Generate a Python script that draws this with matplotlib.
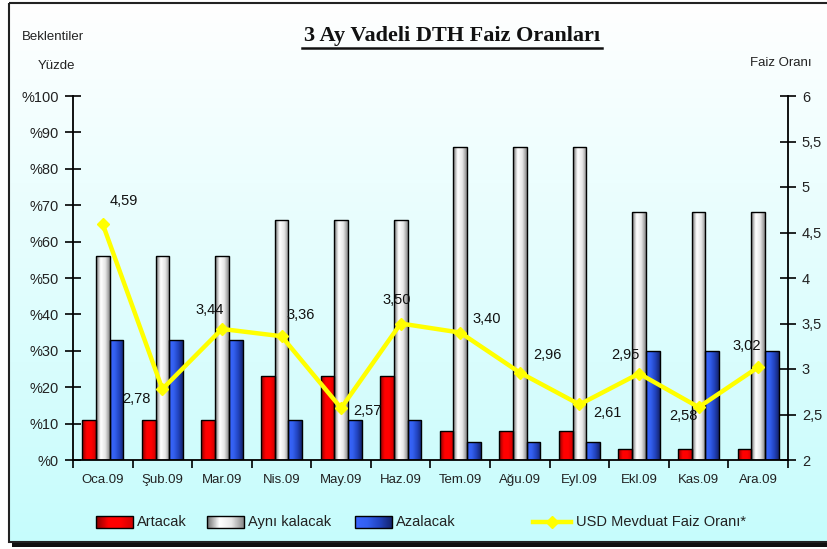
import numpy as np
import matplotlib
matplotlib.use("Agg")
import matplotlib.pyplot as plt
from matplotlib.patches import Rectangle
from matplotlib.lines import Line2D
from matplotlib.colors import LinearSegmentedColormap

# ---------------- data ----------------
months = ["Oca.09", "Şub.09", "Mar.09", "Nis.09", "May.09", "Haz.09",
          "Tem.09", "Ağu.09", "Eyl.09", "Ekl.09", "Kas.09", "Ara.09"]
artacak = [11, 11, 11, 23, 23, 23, 8, 8, 8, 3, 3, 3]
ayni = [56, 56, 56, 66, 66, 66, 86, 86, 86, 68, 68, 68]
azalacak = [33, 33, 33, 11, 11, 11, 5, 5, 5, 30, 30, 30]
usd_rate = [4.59, 2.78, 3.44, 3.36, 2.57, 3.50, 3.40, 2.96, 2.61, 2.95, 2.58, 3.02]
left_ticks = [0, 10, 20, 30, 40, 50, 60, 70, 80, 90, 100]
left_labels = ["%0", "%10", "%20", "%30", "%40", "%50", "%60", "%70", "%80", "%90", "%100"]
right_ticks = [2, 2.5, 3, 3.5, 4, 4.5, 5, 5.5, 6]
right_labels = ["2", "2,5", "3", "3,5", "4", "4,5", "5", "5,5", "6"]
series_names = ["Artacak", "Aynı kalacak", "Azalacak", "USD Mevduat Faiz Oranı*"]

# label offsets in points (style, not data)
label_offsets = [(15, 17), (-19, -7), (-9, 14), (14, 15), (19, -2), (-3, 17),
                 (19, 10), (20, 13), (20, -6), (-10, 13), (-11, -6), (-8, 15)]

W, H = 828, 549
fig = plt.figure(figsize=(W / 100, H / 100), dpi=100)
plt.rcParams['font.family'] = ['Liberation Sans', 'DejaVu Sans']

# ---------------- background ----------------
bg = fig.add_axes([0, 0, 1, 1], zorder=-10)
bg.set_xlim(0, W)
bg.set_ylim(H, 0)
bg.axis('off')
grad = np.linspace(0, 1, 256).reshape(-1, 1)
bg_cmap = LinearSegmentedColormap.from_list("bgc", ["#ffffff", "#c6fcfc"])
bg.imshow(grad, cmap=bg_cmap, extent=[9, W + 5, 542, 3], aspect='auto', zorder=0)
bg.add_patch(Rectangle((9, 3), W, 539, fill=False, edgecolor='#222222', lw=1.5, zorder=2))
bg.add_patch(Rectangle((12, 542.5), W, 4.5, facecolor='#111111', edgecolor='none', zorder=2))

# ---------------- main axes ----------------
ax = fig.add_axes([73 / W, 1 - 460 / H, (788 - 73) / W, (460 - 96) / H])
ax.patch.set_alpha(0)
x = np.arange(len(months))
bw = 0.23

cmap_red = LinearSegmentedColormap.from_list("r", ["#8a0000", "#ff0000", "#ff0000", "#d00000"])
cmap_gray = LinearSegmentedColormap.from_list("g", ["#6e6e6e", "#ffffff", "#e8e8e8", "#8a8a8a"])
cmap_blue = LinearSegmentedColormap.from_list("b", ["#3a66ff", "#3360f0", "#2244c0", "#14246e"])
hgrad = np.linspace(0, 1, 64).reshape(1, -1)

for vals, off, cm in [(artacak, -bw, cmap_red), (ayni, 0, cmap_gray), (azalacak, bw, cmap_blue)]:
    bars = ax.bar(x + off, vals, bw, facecolor='none', edgecolor='black', lw=1.0, zorder=3)
    for p in bars:
        bx, by = p.get_x(), p.get_y()
        im = ax.imshow(hgrad, cmap=cm, extent=[bx, bx + p.get_width(), by, by + p.get_height()],
                       aspect='auto', zorder=2, interpolation='bilinear')
        im.set_clip_path(p)

ax.set_xlim(-0.5, len(months) - 0.5)
ax.set_ylim(0, 100)
ax.set_yticks(left_ticks)
ax.set_yticklabels(left_labels)
ax.set_xticks(x)
ax.set_xticklabels(months)
ax.set_xticks(np.arange(-0.5, len(months), 1), minor=True)
ax.tick_params(axis='x', which='major', length=0, pad=10, labelsize=9.5, labelcolor='#222222')
ax.tick_params(axis='x', which='minor', length=6, width=1.2, direction='out')
ax.tick_params(axis='y', length=12, width=1.2, direction='inout', labelsize=10.5,
               pad=4, labelcolor='#222222')
for s in ['top', 'right']:
    ax.spines[s].set_visible(False)
for s in ['left', 'bottom']:
    ax.spines[s].set_linewidth(1.3)

# ---------------- secondary axis ----------------
ax2 = ax.twinx()
ax2.patch.set_alpha(0)
ax2.set_ylim(2, 6)
ax2.set_yticks(right_ticks)
ax2.set_yticklabels(right_labels)
ax2.tick_params(axis='y', length=12, width=1.2, direction='inout', labelsize=10.5,
                pad=4, labelcolor='#222222')
for s in ['top', 'left', 'bottom']:
    ax2.spines[s].set_visible(False)
ax2.spines['right'].set_linewidth(1.3)
ax2.plot(x, usd_rate, color='#ffff00', lw=3.2, marker='D', markersize=6,
         markerfacecolor='#ffff00', markeredgecolor='#ffff00', zorder=5)
for xi, v, (dx, dy) in zip(x, usd_rate, label_offsets):
    ax2.annotate(f"{v:.2f}".replace('.', ','), (xi, v), xytext=(dx, dy),
                 textcoords='offset points', ha='center', va='center',
                 fontsize=10.5, color='#111111', zorder=6)

# ---------------- texts ----------------
fig.text(452 / W, 1 - 36 / H, "3 Ay Vadeli DTH Faiz Oranları", ha='center', va='center',
         fontsize=16, fontweight='bold', family='Liberation Serif', color='#111111')
fig.add_artist(Line2D([302 / W, 602 / W], [1 - 48 / H, 1 - 48 / H], color='#111111', lw=1.8))
fig.text(22 / W, 1 - 37 / H, "Beklentiler", ha='left', va='center', fontsize=9.5, color='#222222')
fig.text(38 / W, 1 - 66 / H, "Yüzde", ha='left', va='center', fontsize=9.5, color='#222222')
fig.text(750 / W, 1 - 63 / H, "Faiz Oranı", ha='left', va='center', fontsize=9.5, color='#222222')

# ---------------- legend ----------------
leg_y = 522
patch_pos = [96, 207, 355]
legend_cmaps = [cmap_red, cmap_gray, cmap_blue]
for px, name, cm in zip(patch_pos, series_names[:3], legend_cmaps):
    r = Rectangle((px, leg_y - 6), 37, 12, facecolor='none', edgecolor='black', lw=1.0, zorder=3)
    bg.add_patch(r)
    im = bg.imshow(hgrad, cmap=cm, extent=[px, px + 37, leg_y + 6, leg_y - 6], aspect='auto',
                   zorder=2, interpolation='bilinear')
    im.set_clip_path(r)
    bg.text(px + 41, leg_y, name, ha='left', va='center', fontsize=10.5, color='#222222')
bg.add_line(Line2D([533, 571], [leg_y, leg_y], color='#ffff00', lw=3.2, zorder=3))
bg.add_line(Line2D([552], [leg_y], color='#ffff00', marker='D', markersize=6, lw=0, zorder=3))
bg.text(576, leg_y, series_names[3], ha='left', va='center', fontsize=10.5, color='#222222')

fig.savefig("out.png", dpi=100)
